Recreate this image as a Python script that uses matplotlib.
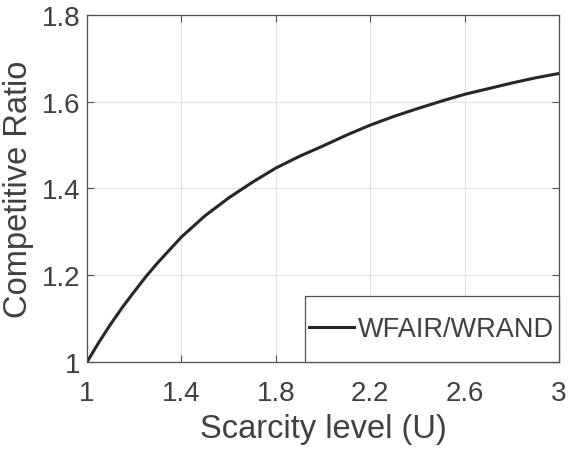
import matplotlib
matplotlib.use("Agg")
import matplotlib.pyplot as plt
from matplotlib.patches import Rectangle

plt.rcParams['font.family'] = ['Liberation Sans', 'DejaVu Sans']

scarcity = [1.0, 1.05, 1.1, 1.15, 1.2, 1.25, 1.3, 1.4, 1.5, 1.6, 1.7, 1.8, 1.9, 2.0,
            2.1, 2.2, 2.3, 2.4, 2.5, 2.6, 2.7, 2.8, 2.9, 3.0]
ratio = [1.0, 1.045, 1.087, 1.126, 1.162, 1.197, 1.229, 1.288, 1.337, 1.378, 1.414, 1.447,
         1.474, 1.498, 1.523, 1.546, 1.566, 1.584, 1.601, 1.617, 1.630, 1.643, 1.655, 1.665]
xticks = [1, 1.4, 1.8, 2.2, 2.6, 3]
xtick_labels = ['1', '1.4', '1.8', '2.2', '2.6', '3']
yticks = [1, 1.2, 1.4, 1.6, 1.8]
ytick_labels = ['1', '1.2', '1.4', '1.6', '1.8']
series_name = 'WFAIR/WRAND'

text_color = '#404040'
edge_color = '#505050'
fig = plt.figure(figsize=(5.75, 4.56), dpi=100)
ax = fig.add_axes([0.1513, 0.204, 0.8207, 0.761])
ax.plot(scarcity, ratio, color='#262626', lw=2.2, label=series_name,
        solid_joinstyle='round', zorder=2)
ax.set_xlim(1, 3)
ax.set_ylim(1, 1.8)
ax.set_xticks(xticks)
ax.set_xticklabels(xtick_labels)
ax.set_yticks(yticks)
ax.set_yticklabels(ytick_labels)
ax.grid(True, color='#e3e3e3', lw=0.8)
ax.tick_params(direction='in', top=True, right=True, length=5, width=0.8,
               colors=edge_color, labelcolor=text_color, labelsize=20)
ax.tick_params(axis='x', pad=13)
ax.tick_params(axis='y', pad=5)
for s in ax.spines.values():
    s.set_color(edge_color)
    s.set_linewidth(0.9)
ax.set_xlabel('Scarcity level (U)', fontsize=23.5, color=text_color, labelpad=5)
ax.set_ylabel('Competitive Ratio', fontsize=23.5, color=text_color, labelpad=5)

# legend frame (MATLAB-style box) and frameless legend inside it
box = Rectangle((0.462, 0.0), 0.538, 0.19, transform=ax.transAxes,
                facecolor='white', edgecolor=edge_color, linewidth=0.9,
                zorder=4, clip_on=False)
ax.add_patch(box)
leg = ax.legend(loc='center', bbox_to_anchor=(0.730, 0.095), fontsize=19.5,
                frameon=False, handlelength=1.63, handletextpad=0.15,
                borderpad=0.0, borderaxespad=0.0, labelcolor=text_color)
leg.set_zorder(5)
fig.savefig('out.png', dpi=100)
